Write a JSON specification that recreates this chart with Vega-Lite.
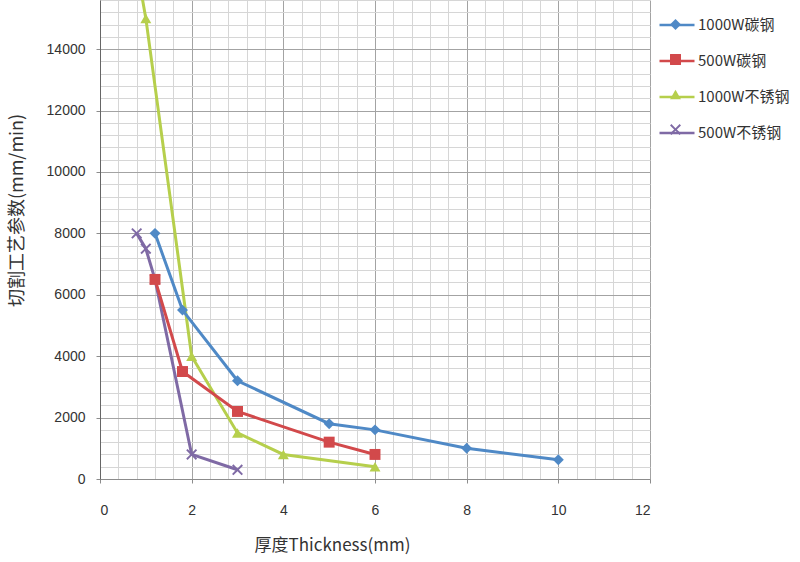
{
  "$schema": "https://vega.github.io/schema/vega-lite/v6.json",
  "width": 550,
  "height": 479,
  "autosize": {"type": "none"},
  "padding": {"left": 100, "top": 0, "right": 150, "bottom": 83},
  "background": "white",
  "config": {"view": {"stroke": null}, "font": "Liberation Sans"},
  "data": {
    "values": [
      {"series": "500W不锈钢", "thickness": 0.8, "speed": 8000},
      {"series": "500W不锈钢", "thickness": 1, "speed": 7500},
      {"series": "500W不锈钢", "thickness": 1.2, "speed": 6500},
      {"series": "500W不锈钢", "thickness": 2, "speed": 800},
      {"series": "500W不锈钢", "thickness": 3, "speed": 300},
      {"series": "1000W不锈钢", "thickness": 0.8, "speed": 16700},
      {"series": "1000W不锈钢", "thickness": 1, "speed": 15000},
      {"series": "1000W不锈钢", "thickness": 2, "speed": 4000},
      {"series": "1000W不锈钢", "thickness": 3, "speed": 1500},
      {"series": "1000W不锈钢", "thickness": 4, "speed": 800},
      {"series": "1000W不锈钢", "thickness": 6, "speed": 400},
      {"series": "1000W碳钢", "thickness": 1.2, "speed": 8000},
      {"series": "1000W碳钢", "thickness": 1.8, "speed": 5500},
      {"series": "1000W碳钢", "thickness": 3, "speed": 3200},
      {"series": "1000W碳钢", "thickness": 5, "speed": 1800},
      {"series": "1000W碳钢", "thickness": 6, "speed": 1600},
      {"series": "1000W碳钢", "thickness": 8, "speed": 1000},
      {"series": "1000W碳钢", "thickness": 10, "speed": 630},
      {"series": "500W碳钢", "thickness": 1.2, "speed": 6500},
      {"series": "500W碳钢", "thickness": 1.8, "speed": 3500},
      {"series": "500W碳钢", "thickness": 3, "speed": 2200},
      {"series": "500W碳钢", "thickness": 5, "speed": 1200},
      {"series": "500W碳钢", "thickness": 6, "speed": 800}
    ]
  },
  "layer": [
    {
      "mark": {"type": "line", "strokeWidth": 3, "clip": true},
      "encoding": {
        "x": {
          "field": "thickness", "type": "quantitative",
          "scale": {"domain": [0, 12], "nice": false, "zero": false},
          "axis": {
            "orient": "bottom", "values": [0, 2, 4, 6, 8, 10, 12],
            "grid": true, "gridColor": "#a3a3a3", "gridWidth": 1,
            "domainColor": "#8c8c8c", "tickColor": "#8c8c8c", "tickSize": 4,
            "labelPadding": 20, "labelFontSize": 14, "labelColor": "#333333", "labelFont": "Liberation Sans",
            "title": "厚度Thickness(mm)", "titleFont": "Noto Sans CJK SC", "titleFontSize": 17,
            "titleFontWeight": "normal", "titleColor": "#333333",
            "titleX": 232, "titleY": 66, "titleAlign": "center", "titleBaseline": "middle"
          }
        },
        "y": {
          "field": "speed", "type": "quantitative",
          "scale": {"domain": [0, 15600], "nice": false, "zero": true},
          "axis": {
            "orient": "left", "values": [0, 2000, 4000, 6000, 8000, 10000, 12000, 14000],
            "format": "d",
            "grid": true, "gridColor": "#a3a3a3", "gridWidth": 1,
            "domainColor": "#666666", "tickColor": "#8c8c8c", "tickSize": 4,
            "labelPadding": 11, "labelFontSize": 14, "labelColor": "#333333", "labelFont": "Liberation Sans",
            "title": "切割工艺参数(mm/min)", "titleFont": "Noto Sans CJK SC", "titleFontSize": 18,
            "titleFontWeight": "normal", "titleColor": "#333333",
            "titleX": -83, "titleY": 210, "titleAngle": -90, "titleAlign": "center", "titleBaseline": "middle"
          }
        },
        "stroke": {
          "field": "series", "type": "nominal",
          "sort": ["1000W碳钢", "500W碳钢", "1000W不锈钢", "500W不锈钢"],
          "scale": {"range": ["#4f89c6", "#d2494b", "#b6cf4c", "#7f6aa5"]},
          "legend": {
            "orient": "none", "legendX": 558, "legendY": 6, "padding": 0,
            "symbolType": "stroke", "symbolSize": 1225, "symbolStrokeWidth": 2.5,
            "labelFont": "Noto Sans CJK SC", "labelFontSize": 15, "labelColor": "#333333",
            "labelOffset": 2, "rowPadding": 9, "title": null
          }
        }
      }
    },
    {
      "mark": {"type": "point", "filled": true, "size": 120, "opacity": 1, "clip": true},
      "encoding": {
        "x": {
          "field": "thickness", "type": "quantitative",
          "axis": {
            "orient": "bottom",
            "values": [0.4, 0.8, 1.2, 1.6, 2.4, 2.8, 3.2, 3.6, 4.4, 4.8, 5.2, 5.6, 6.4, 6.8, 7.2, 7.6, 8.4, 8.8, 9.2, 9.6, 10.4, 10.8, 11.2, 11.6],
            "grid": true, "gridColor": "#d6d6d6", "gridWidth": 1,
            "labels": false, "ticks": false, "domain": false, "title": null
          }
        },
        "y": {
          "field": "speed", "type": "quantitative",
          "axis": {
            "orient": "left",
            "values": [400, 800, 1200, 1600, 2400, 2800, 3200, 3600, 4400, 4800, 5200, 5600, 6400, 6800, 7200, 7600, 8400, 8800, 9200, 9600, 10400, 10800, 11200, 11600, 12400, 12800, 13200, 13600, 14400, 14800, 15200, 15600],
            "grid": true, "gridColor": "#d6d6d6", "gridWidth": 1,
            "labels": false, "ticks": false, "domain": false, "title": null
          }
        },
        "color": {
          "field": "series", "type": "nominal",
          "scale": {
            "domain": ["1000W碳钢", "500W碳钢", "1000W不锈钢", "500W不锈钢"],
            "range": ["#4f89c6", "#d2494b", "#b6cf4c", "#7f6aa5"]
          },
          "legend": {
            "orient": "none", "legendX": 568, "legendY": 17, "padding": 0,
            "symbolSize": 120, "symbolStrokeWidth": 0, "symbolOpacity": 1,
            "labelFont": "Noto Sans CJK SC", "labelFontSize": 15, "labelColor": "transparent",
            "labelOffset": 2, "rowPadding": 19, "title": null
          }
        },
        "shape": {
          "field": "series", "type": "nominal",
          "scale": {
            "domain": ["1000W碳钢", "500W碳钢", "1000W不锈钢", "500W不锈钢"],
            "range": ["diamond", "square", "triangle-up", "M-1,-0.75L-0.75,-1L0,-0.25L0.75,-1L1,-0.75L0.25,0L1,0.75L0.75,1L0,0.25L-0.75,1L-1,0.75L-0.25,0Z"]
          },
          "legend": {
            "orient": "none", "legendX": 568, "legendY": 17, "padding": 0,
            "symbolSize": 120, "symbolStrokeWidth": 0, "symbolOpacity": 1,
            "labelFont": "Noto Sans CJK SC", "labelFontSize": 15, "labelColor": "transparent",
            "labelOffset": 2, "rowPadding": 19, "title": null
          }
        }
      }
    }
  ],
  "resolve": {"axis": {"x": "independent", "y": "independent"}}
}
